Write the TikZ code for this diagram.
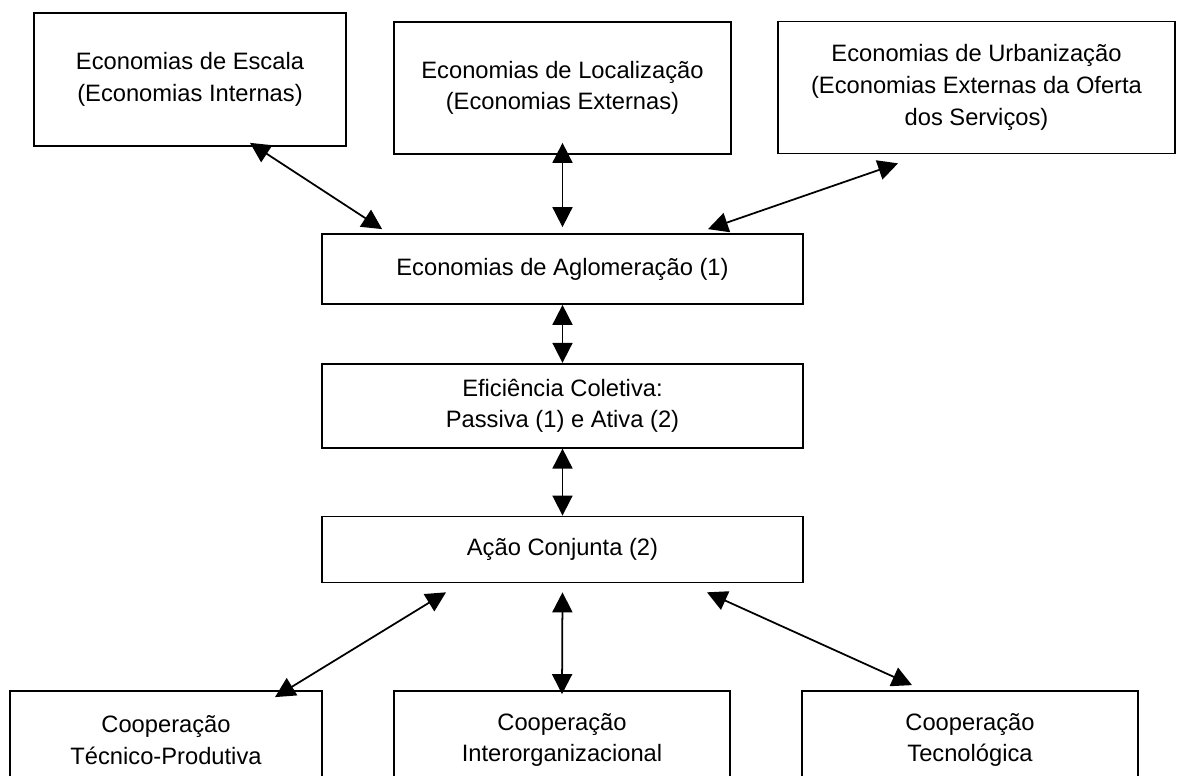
\documentclass[tikz,border=0pt]{standalone}
\usepackage{fontspec}
\setmainfont{Liberation Sans}
\usetikzlibrary{positioning,arrows.meta}
\tikzset{basic/.style={draw,line width=1pt,align=center,inner sep=2pt,font=\fontsize{13.5}{18}\selectfont}}
\tikzset{upper/.style={basic,minimum height=2.64cm}}
\tikzset{middle/.style={basic,minimum width=9.62cm}}
\tikzset{lower/.style={basic,minimum width=6.72cm,minimum height=1.96cm}}
\tikzset{link/.style={line width=1pt,{Triangle[length=0.4cm,width=0.4cm]}-{Triangle[length=0.4cm,width=0.4cm]}}}

\begin{document}
\begin{tikzpicture}[x=0.02cm,y=-0.02cm]
    \useasboundingbox (0,0) rectangle (1177,776);
    \clip (0,0) rectangle (1177,776);
        \node[upper,minimum width=6.24cm,minimum height=2.66cm] (escala) at (190,79.5) {Economias de Escala\\(Economias Internas)};
        \node[upper,minimum width=6.74cm] (local) at (562.5,88) {Economias de Localização\\(Economias Externas)};
        \node[upper,minimum width=7.94cm] (urban) at (976.5,87.5) {Economias de Urbanização\\(Economias Externas da Oferta\\dos Serviços)};
        \node[middle,minimum height=1.4cm] (aglom) at (562.5,269) {Economias de Aglomeração (1)};
        \node[middle,minimum height=1.68cm,below=1.16cm of aglom] (efic) {Eficiência Coletiva:\\Passiva (1) e Ativa (2)};
        \node[middle,minimum height=1.32cm,below=1.34cm of efic] (acao) {Ação Conjunta (2)};
        \node[lower,minimum width=6.24cm] (tecprod) at (166,740) {Cooperação\\Técnico-Produtiva};
        \node[lower] (interorg) at (562,740) {Cooperação\\Interorganizacional};
        \node[lower] (tecno) at (970,740) {Cooperação\\Tecnológica};
            \path[draw,link] ([xshift=1.2cm,yshift=0.08cm]escala.south) -- ([xshift=1.22cm,yshift=0.08cm]aglom.north west);
            \path[draw,link] ([yshift=0.24cm]local.south) -- ([yshift=0.12cm]aglom.north);
            \path[draw,link] ([xshift=-1.57cm,yshift=-0.18cm]urban.south) -- ([xshift=2.91cm,yshift=0.08cm]aglom.north);
            \path[draw,link] (aglom.south) -- (efic.north);
            \path[draw,link] (efic.south) -- (acao.north);
            \path[draw,link] ([xshift=-2.33cm,yshift=-0.18cm]acao.south) -- ([xshift=2.18cm,yshift=-0.14cm]tecprod.north);
            \path[draw,link] ([yshift=-0.18cm]acao.south) -- ([yshift=-0.08cm]interorg.north);
            \path[draw,link] ([xshift=2.89cm,yshift=-0.18cm]acao.south) -- ([xshift=-1.16cm,yshift=0.1cm]tecno.north);
    \end{tikzpicture}
\end{document}
